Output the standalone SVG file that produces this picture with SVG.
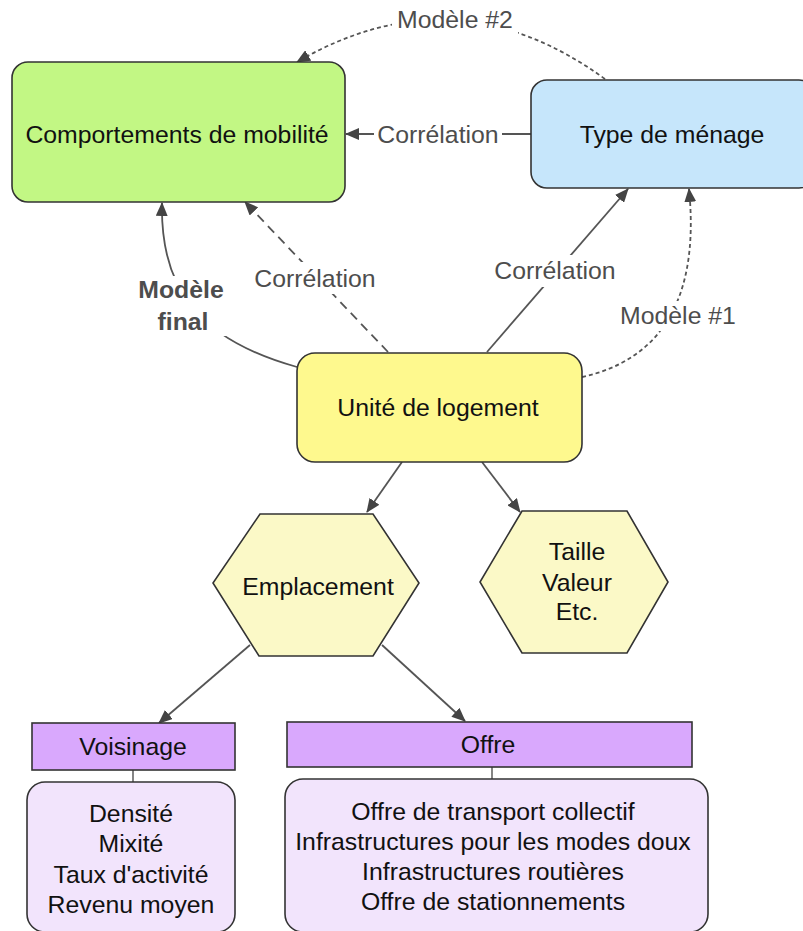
<svg xmlns="http://www.w3.org/2000/svg" width="803" height="931" viewBox="0 0 803 931">
  <style>
    text { font-family: "Liberation Sans", Arial, Helvetica, sans-serif; font-size: 24.8px; text-anchor: middle; }
    .node { stroke: #333; stroke-width: 1.6; }
    .lbl { fill: #111; }
    .elbl { fill: #4d4d4d; }
    .bold { font-weight: bold; }
    .conn { fill: none; stroke: #555; stroke-width: 1.8; }
    .dash { stroke-dasharray: 9 6; }
    .dot { stroke-dasharray: 4 3; }
    .bg { fill: #fff; }
    .stem { stroke: #666; stroke-width: 1.6; }
  </style>
  <defs>
    <marker id="arrow" markerUnits="userSpaceOnUse" markerWidth="14" markerHeight="12" refX="13" refY="6" orient="auto">
      <path d="M0,0 L14,6 L0,12 z" fill="#444"/>
    </marker>
  </defs>

  <rect width="803" height="931" fill="#fff"/>

  <!-- connectors -->
  <g id="connectors">
    <path class="conn dot" d="M605,79 Q455,-30 297,62" marker-end="url(#arrow)"/>
    <path class="conn" d="M531,134 L346,134" marker-end="url(#arrow)"/>
    <path class="conn dash" d="M388,352 L245,202" marker-end="url(#arrow)"/>
    <path class="conn" d="M487,352 L628,189" marker-end="url(#arrow)"/>
    <path class="conn" d="M297,367 C200,340 160,290 162,203" marker-end="url(#arrow)"/>
    <path class="conn dot" d="M582,377 C660,360 700,300 689,189" marker-end="url(#arrow)"/>
    <path class="conn" d="M402,462 L367,512" marker-end="url(#arrow)"/>
    <path class="conn" d="M482,462 L520,512" marker-end="url(#arrow)"/>
    <path class="conn" d="M250,645 L159,723" marker-end="url(#arrow)"/>
    <path class="conn" d="M382,645 L465,721" marker-end="url(#arrow)"/>
    <line class="stem" x1="133" y1="770" x2="133" y2="782"/>
    <line class="stem" x1="492" y1="767" x2="492" y2="779"/>

    <!-- edge labels -->
    <rect class="bg" x="392" y="6" width="126" height="28"/>
    <text class="elbl" x="455" y="28">Modèle #2</text>
    <rect class="bg" x="374" y="120" width="128" height="30"/>
    <text class="elbl" x="438" y="143">Corrélation</text>
    <rect class="bg" x="250" y="262" width="130" height="32"/>
    <text class="elbl" x="315" y="287">Corrélation</text>
    <rect class="bg" x="491" y="255" width="128" height="32"/>
    <text class="elbl" x="555" y="279">Corrélation</text>
    <rect class="bg" x="132" y="276" width="96" height="60"/>
    <text class="elbl bold" x="181" y="298">Modèle</text>
    <text class="elbl bold" x="183" y="330">final</text>
    <rect class="bg" x="617" y="301" width="124" height="30"/>
    <text class="elbl" x="678" y="324">Modèle #1</text>
  </g>

  <g id="comportements">
    <rect class="node" x="12" y="62" width="333" height="140" rx="16" fill="#c2f784"/>
    <text class="lbl" x="177" y="143">Comportements de mobilité</text>
  </g>

  <g id="menage">
    <rect class="node" x="531" y="80" width="284" height="108" rx="16" fill="#c6e6fb"/>
    <text class="lbl" x="672" y="143">Type de ménage</text>
  </g>

  <g id="logement">
    <rect class="node" x="297" y="353" width="285" height="109" rx="18" fill="#fef98e"/>
    <text class="lbl" x="438" y="416">Unité de logement</text>
  </g>

  <g id="emplacement">
    <polygon class="node" points="260,514 373,514 419,583 373,656 259,656 213,583" fill="#fbf9c7"/>
    <text class="lbl" x="318" y="595">Emplacement</text>
  </g>

  <g id="attributs">
    <polygon class="node" points="522,511 627,511 668,582 627,653 522,653 480,582" fill="#fbf9c7"/>
    <text class="lbl" x="577" y="560">Taille</text>
    <text class="lbl" x="577" y="591">Valeur</text>
    <text class="lbl" x="577" y="620">Etc.</text>
  </g>

  <g id="voisinage">
    <rect class="node" x="32" y="723" width="203" height="47" fill="#d9a8fd"/>
    <text class="lbl" x="133" y="755">Voisinage</text>
  </g>

  <g id="voisinage-details">
    <rect class="node" x="27" y="782" width="208" height="150" rx="18" fill="#f2e4fc"/>
    <text class="lbl" x="131" y="822">Densité</text>
    <text class="lbl" x="131" y="852">Mixité</text>
    <text class="lbl" x="131" y="883">Taux d'activité</text>
    <text class="lbl" x="131" y="913">Revenu moyen</text>
  </g>

  <g id="offre">
    <rect class="node" x="287" y="722" width="405" height="45" fill="#d9a8fd"/>
    <text class="lbl" x="488" y="753">Offre</text>
  </g>

  <g id="offre-details">
    <rect class="node" x="285" y="779" width="423" height="153" rx="18" fill="#f2e4fc"/>
    <text class="lbl" x="493" y="820">Offre de transport collectif</text>
    <text class="lbl" x="493" y="850">Infrastructures pour les modes doux</text>
    <text class="lbl" x="493" y="880">Infrastructures routières</text>
    <text class="lbl" x="493" y="910">Offre de stationnements</text>
  </g>
</svg>
